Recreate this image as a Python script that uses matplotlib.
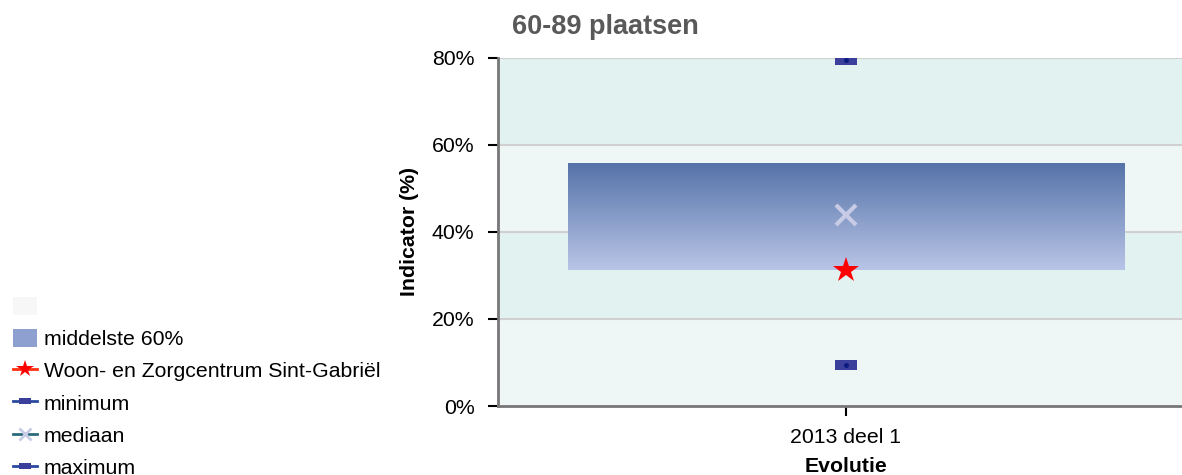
import numpy as np
import matplotlib
matplotlib.use("Agg")
import matplotlib.pyplot as plt
from matplotlib.lines import Line2D
from matplotlib.patches import Patch
from matplotlib.path import Path

plt.rcParams['font.family'] = ['Liberation Sans', 'DejaVu Sans']

# Data (percent)
categories = ["2013 deel 1"]
band_low = [31.3]
band_high = [55.7]
own_value = [31.3]
minimum = [9.4]
median = [43.9]
maximum = [79.5]
y_ticks = [0, 20, 40, 60, 80]

fs = 15.3

fig = plt.figure(figsize=(11.82, 4.75), dpi=100)
ax = fig.add_axes([498 / 1182, 1 - 406 / 475, 696 / 1182, 348 / 475])

x = np.arange(len(categories))
ax.set_xlim(-0.5, len(categories) - 0.5)
ax.set_ylim(0, 80)

# Alternating background bands
band_colors = ['#eff7f6', '#e2f2f0']
for i in range(len(y_ticks) - 1):
    ax.axhspan(y_ticks[i], y_ticks[i + 1], color=band_colors[i % 2], zorder=0, lw=0)
for t in y_ticks[1:]:
    ax.axhline(t, color='#d0d0d0', lw=1.5, zorder=1)

# Gradient box for the middle 60%
grad = np.linspace(0, 1, 256).reshape(-1, 1)
cmap = matplotlib.colors.LinearSegmentedColormap.from_list('box', ['#b9c5e7', '#5573a8'])
for xi, lo, hi in zip(x, band_low, band_high):
    ax.imshow(grad, extent=(xi - 0.4, xi + 0.4, lo, hi), origin='lower', cmap=cmap,
              aspect='auto', zorder=2)

# wide rectangle marker for minimum / maximum
rect = Path([(-1.1, -0.5), (1.1, -0.5), (1.1, 0.5), (-1.1, 0.5), (-1.1, -0.5)],
            [Path.MOVETO, Path.LINETO, Path.LINETO, Path.LINETO, Path.CLOSEPOLY])

for vals in (minimum, maximum):
    ax.plot(x, vals, ls='none', marker=rect, markersize=16, markeredgewidth=0,
            color='#3a3f9c', zorder=3)
    ax.plot(x, vals, ls='none', marker='o', markersize=3.5, markeredgewidth=0,
            color='#0a1a80', zorder=4)
ax.plot(x, median, ls='none', marker='x', markersize=14, markeredgewidth=3,
        color='#c8cbe6', zorder=4)
ax.plot(x, own_value, ls='none', marker='*', markersize=19, markeredgewidth=0,
        color='#ff0000', zorder=5)

ax.set_yticks(y_ticks)
ax.set_yticklabels([f"{t}%" for t in y_ticks], fontsize=fs)
ax.set_xticks(x)
ax.set_xticklabels(categories, fontsize=fs)
ax.tick_params(axis='y', length=7, width=1.5, color='black', pad=10)
ax.tick_params(axis='x', length=7, width=1.5, color='black', pad=9)
for side in ('top', 'right'):
    ax.spines[side].set_visible(False)
for side in ('left', 'bottom'):
    ax.spines[side].set_color('#777777')
    ax.spines[side].set_linewidth(2)

ax.set_ylabel("Indicator (%)", fontsize=fs, fontweight='bold', labelpad=9)
ax.set_xlabel("Evolutie", fontsize=fs, fontweight='bold', labelpad=7)

fig.text(512 / 1182, 1 - 27 / 475, "60-89 plaatsen", fontsize=19.5, fontweight='bold',
         color='#595959', va='center', ha='left')

small_rect = Path([(-1.2, -0.5), (1.2, -0.5), (1.2, 0.5), (-1.2, 0.5), (-1.2, -0.5)],
                  [Path.MOVETO, Path.LINETO, Path.LINETO, Path.LINETO, Path.CLOSEPOLY])
handles = [
    Patch(facecolor='#f7f7f7', edgecolor='none'),
    Patch(facecolor='#8ea0cf', edgecolor='none'),
    Line2D([], [], color='#ff3010', lw=2, marker='*', markersize=13, markeredgewidth=0,
           markerfacecolor='#ff0000'),
    Line2D([], [], color='#2a4aa0', lw=2, marker=small_rect, markersize=9,
           markeredgewidth=0, markerfacecolor='#3a3f9c'),
    Line2D([], [], color='#2a6a7a', lw=2, marker='x', markersize=9, markeredgewidth=2,
           markeredgecolor='#c8cbe6'),
    Line2D([], [], color='#2a4aa0', lw=2, marker=small_rect, markersize=9,
           markeredgewidth=0, markerfacecolor='#3a3f9c'),
]
labels = ["", "middelste 60%", "Woon- en Zorgcentrum Sint-Gabriël", "minimum",
          "mediaan", "maximum"]
fig.legend(handles, labels, loc='lower left', bbox_to_anchor=(0.0, -0.033),
           frameon=False, fontsize=fs, handlelength=1.15, handleheight=0.95,
           handletextpad=0.3, labelspacing=0.55, borderaxespad=0.3, borderpad=0.3)

fig.savefig("out.png", dpi=100)
